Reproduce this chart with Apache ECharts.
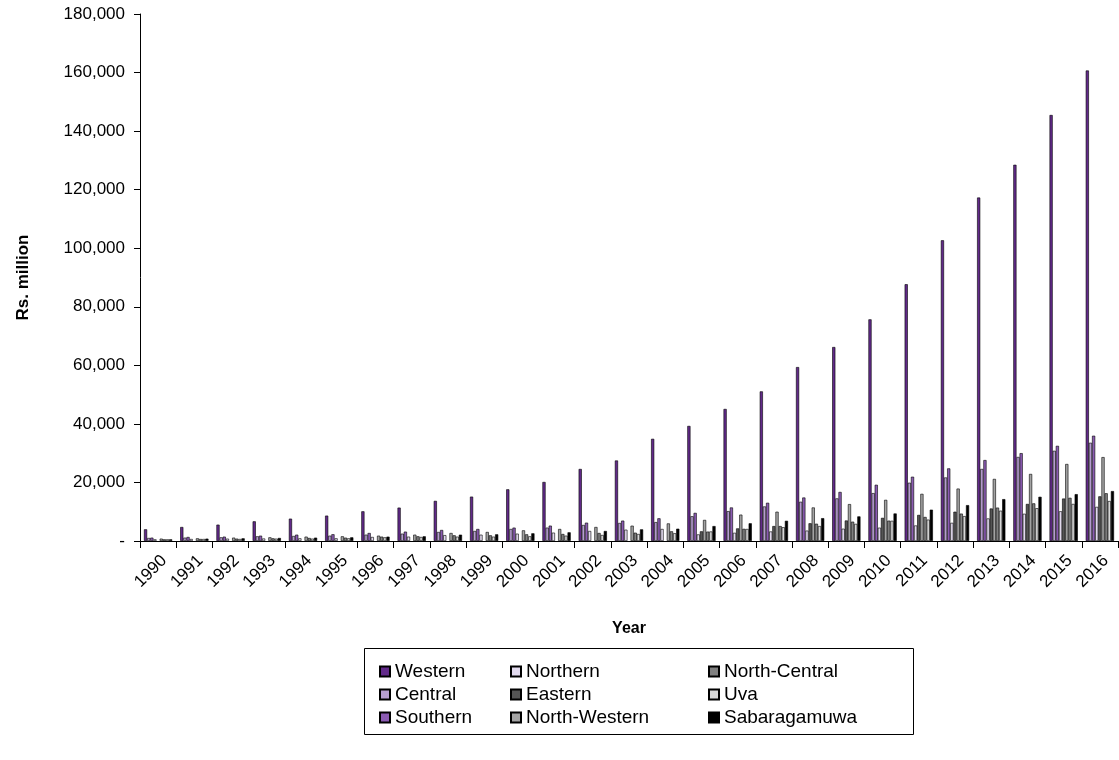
<!DOCTYPE html>
<html>
<head>
<meta charset="utf-8">
<script src="https://cdn.jsdelivr.net/npm/echarts@6/dist/echarts.min.js"></script>
<style>
html,body{margin:0;padding:0;background:#fff;}
#chart{width:1119px;height:760px;}
</style>
</head>
<body>
<div id="chart"></div>
<script>
const years = ['1990','1991','1992','1993','1994','1995','1996','1997','1998','1999','2000','2001','2002','2003','2004','2005','2006','2007','2008','2009','2010','2011','2012','2013','2014','2015','2016'];

const western = [3990,4780,5580,6720,7630,8660,10140,11400,13700,15150,17650,20160,24600,27500,34900,39300,45100,51100,59400,66250,75700,87700,102700,117300,128500,145500,160700];
const central = [1030,1140,1250,1600,1710,1820,2160,2500,3080,3420,4100,4560,5470,6150,6450,8450,10200,11800,13400,14550,16350,19900,21700,24600,28700,30800,33550];
const southern = [1140,1370,1480,1820,2160,2300,2730,3190,3760,4100,4560,5240,6260,6950,7750,9600,11450,13050,14850,16750,19200,21950,24800,27650,30000,32500,35950];
const northern = [570,680,800,850,910,910,1370,1480,2000,2150,2500,2850,3420,3860,4100,2250,2800,3250,3550,4200,4550,5300,6200,7700,9300,10150,11650];
const eastern = [null,null,null,null,null,null,null,null,null,null,null,null,null,null,null,3300,4300,5100,6050,7000,7900,8900,10000,11100,12650,14500,15250];
const northWestern = [800,910,1140,1250,1480,1600,1820,2160,2730,3080,3640,4100,4780,5230,6000,7200,9000,10000,11450,12600,14050,16100,17900,21200,22900,26300,28650];
const northCentral = [570,680,800,910,1030,1140,1480,1600,1940,1940,2280,2390,2730,2840,3300,3200,4150,5100,5900,6600,6950,8200,9350,11400,12850,14750,16300];
const uva = [570,680,680,800,800,910,1250,1370,1480,1480,1600,1820,2050,2390,2650,3250,4100,4700,5100,5850,6900,7300,8500,10350,11200,12650,13650];
const sabaragamuwa = [570,800,910,1030,1140,1250,1480,1600,2160,2280,2620,2960,3420,3980,4200,5100,6050,6900,7800,8400,9400,10700,12250,14300,15100,16000,17050];

const seriesNames = ['Western','Central','Southern','Northern','Eastern','North-Western','North-Central','Uva','Sabaragamuwa'];
const seriesData = [western,central,southern,northern,eastern,northWestern,northCentral,uva,sabaragamuwa];
const seriesColors = ['#622a8a','#b69dd0','#8b5bb2','#e2daee','#555555','#a3a3a3','#808080','#d7d7d7','#000000'];

const yTicks = {min:0, max:180000, interval:20000};

const chart = echarts.init(document.getElementById('chart'), null, {renderer:'canvas'});
const FONT = '"Liberation Sans", Arial, sans-serif';

const series = seriesNames.map((n,i)=>({
  name:n, type:'bar', data:seriesData[i],
  barGap:'0%', barCategoryGap:'22%',
  itemStyle:{color:seriesColors[i], borderColor:'#000', borderWidth:0.6},
  emphasis:{disabled:true}, animation:false
}));

const legendCommon = {
  orient:'vertical', top:657, itemWidth:10, itemHeight:10, itemGap:4,
  icon:'rect',
  textStyle:{fontFamily:FONT, fontSize:19, color:'#000'},
  selectedMode:false
};

chart.setOption({
  animation:false,
  backgroundColor:'#fff',
  grid:{left:140, right:1, top:14, bottom:219, containLabel:false},
  xAxis:{
    type:'category', data:years,
    name:'Year', nameLocation:'middle', nameGap:80,
    nameTextStyle:{fontFamily:FONT, fontSize:16, fontWeight:'bold', color:'#000'},
    axisLine:{lineStyle:{color:'#000', width:1}},
    axisTick:{show:true, length:7, lineStyle:{color:'#000'}},
    axisLabel:{rotate:45, fontFamily:FONT, fontSize:17, color:'#000', margin:11, interval:0, verticalAlign:'top'},
    splitLine:{show:false}
  },
  yAxis:{
    type:'value', min:yTicks.min, max:yTicks.max, interval:yTicks.interval,
    name:'Rs. million', nameLocation:'middle', nameGap:108, nameRotate:90,
    nameTextStyle:{fontFamily:FONT, fontSize:17, fontWeight:'bold', color:'#000'},
    axisLine:{show:true, lineStyle:{color:'#000', width:1}},
    axisTick:{show:true, length:6, lineStyle:{color:'#000'}},
    axisLabel:{fontFamily:FONT, fontSize:17, color:'#000', margin:15,
      formatter:v=> v===0 ? '-' : v.toLocaleString('en-US')},
    splitLine:{show:false}
  },
  legend:[
    Object.assign({}, legendCommon, {left:374, data:['Western','Central','Southern']}),
    Object.assign({}, legendCommon, {left:505, data:['Northern','Eastern','North-Western']}),
    Object.assign({}, legendCommon, {left:703, data:['North-Central','Uva','Sabaragamuwa']})
  ],
  graphic:[{
    type:'rect', left:364, top:648, z:-1,
    shape:{width:549, height:86},
    style:{fill:'#fff', stroke:'#000', lineWidth:1}
  }],
  series:series
});
</script>
</body>
</html>
